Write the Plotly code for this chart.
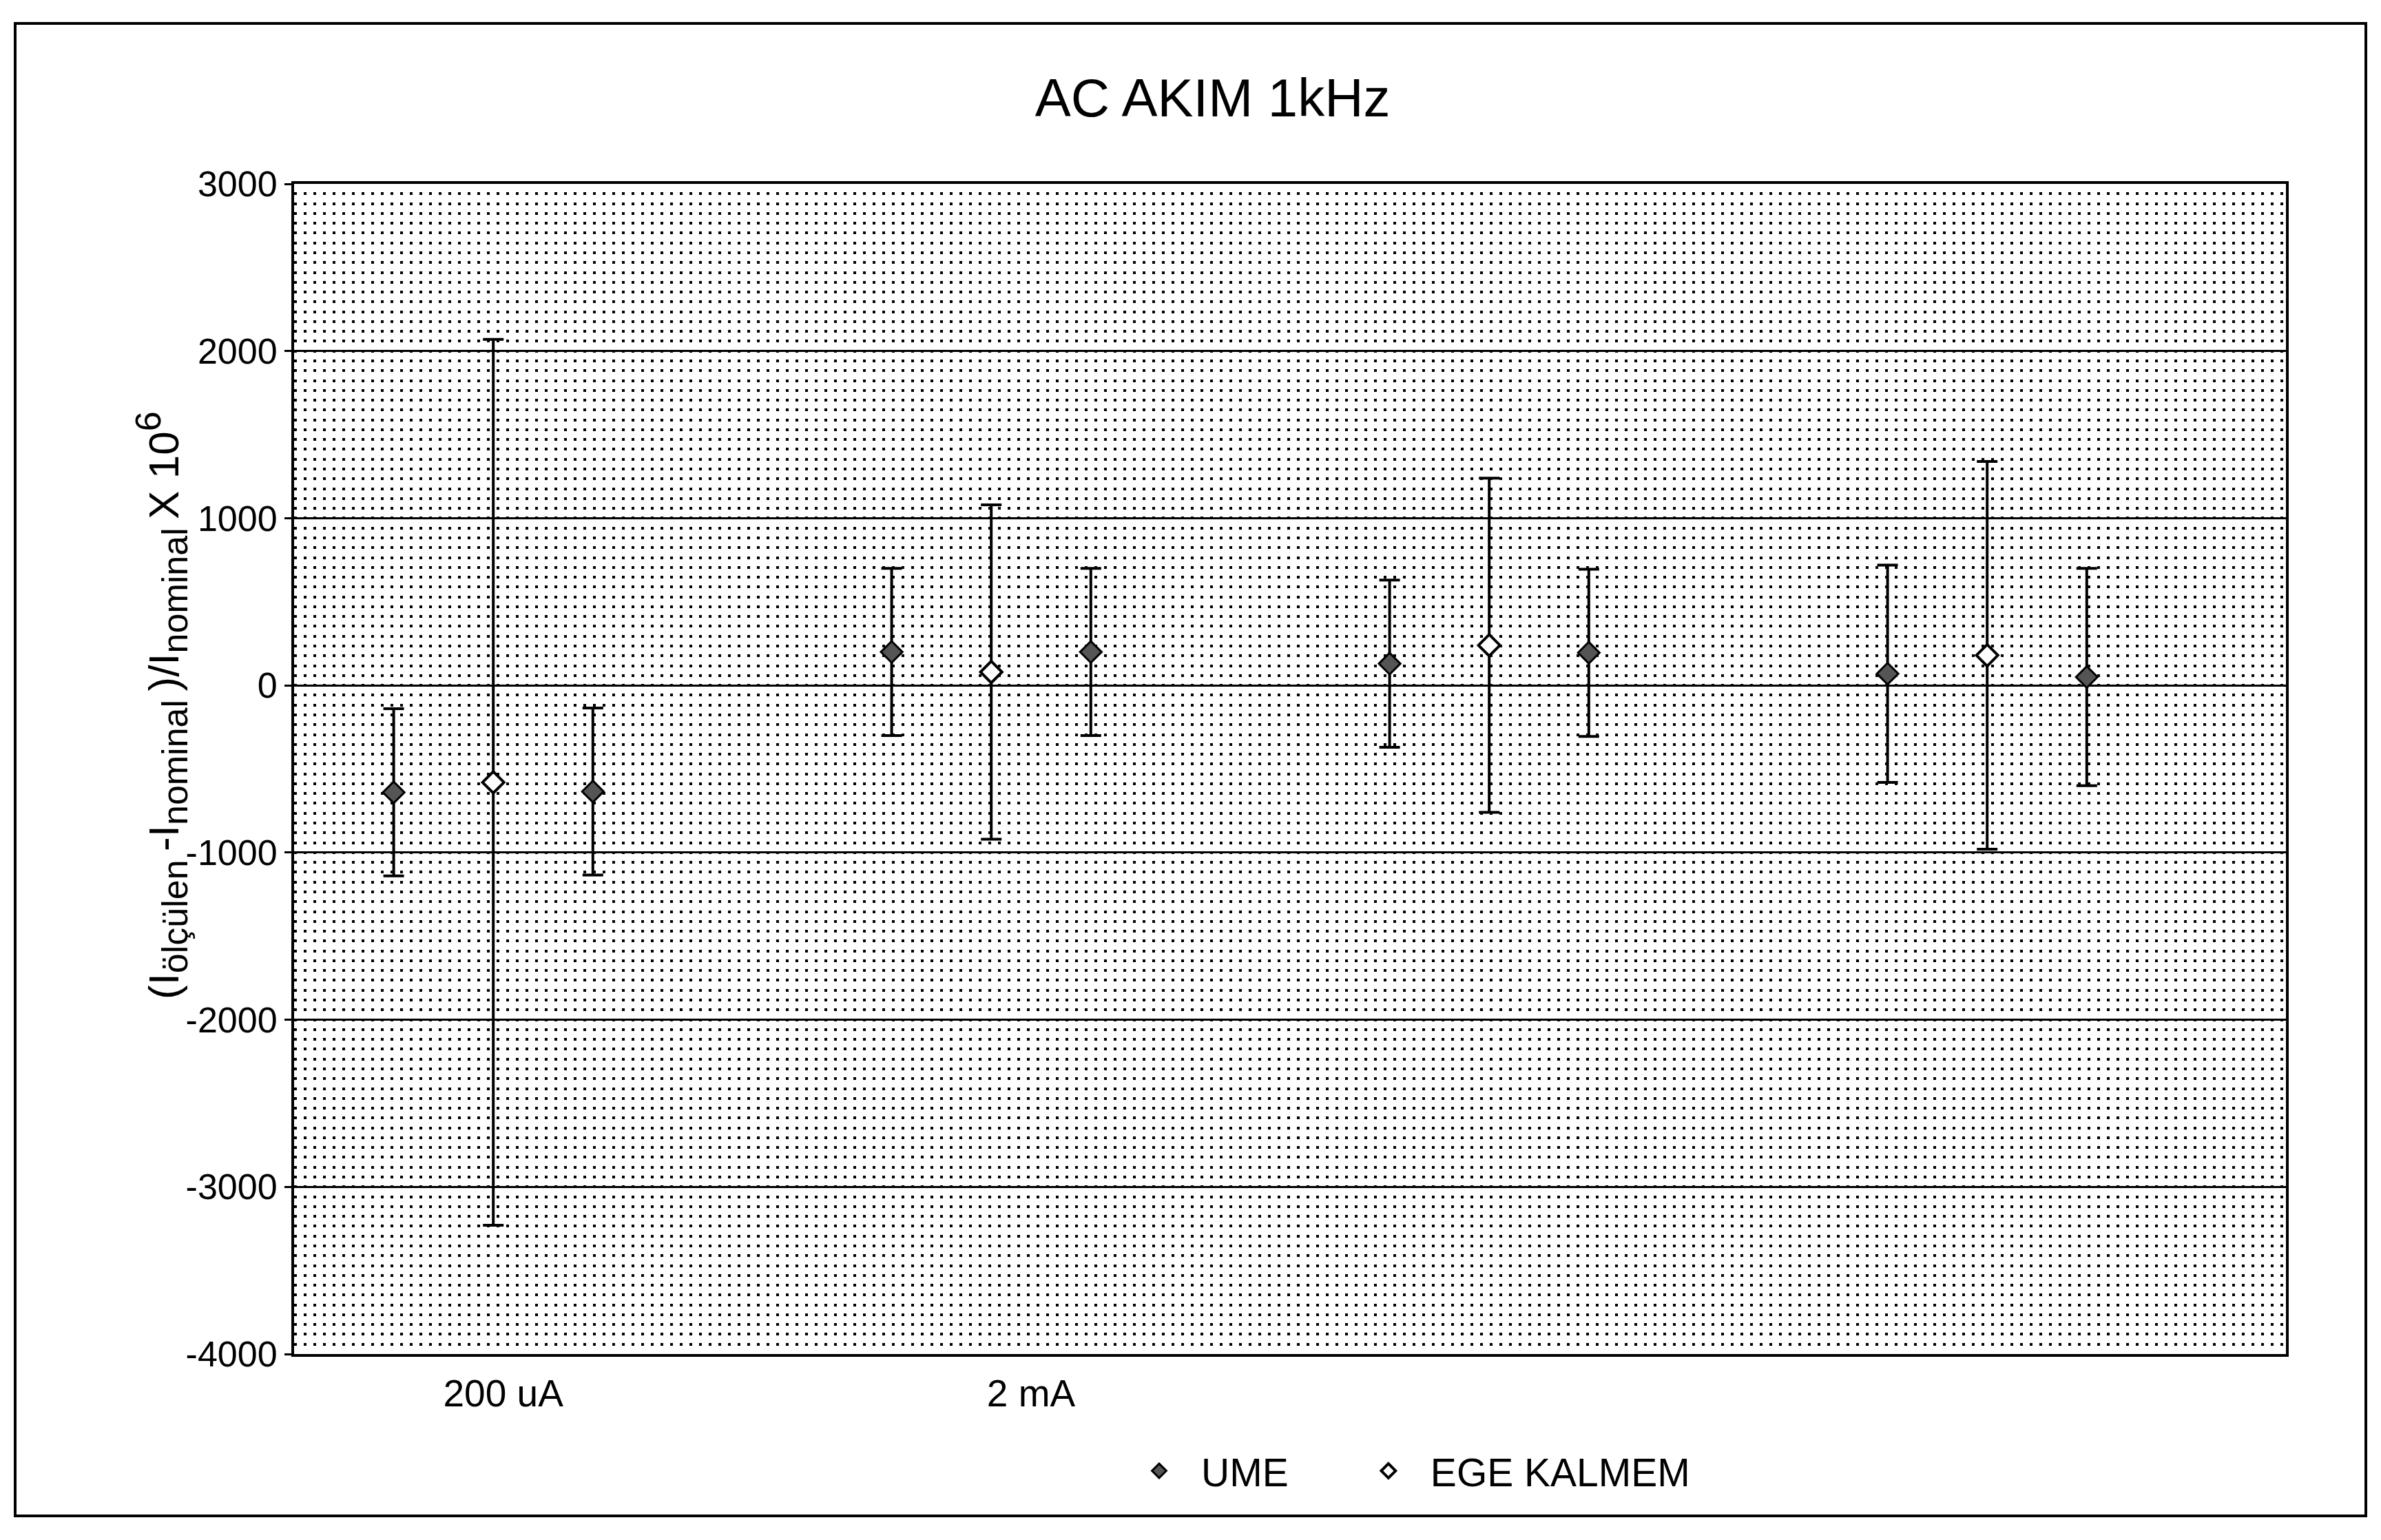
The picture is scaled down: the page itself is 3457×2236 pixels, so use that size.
import plotly.graph_objects as go

# ---- data ----
ume_x = [1, 3, 6, 8, 11, 13, 16, 18]
ume_y = [-640, -635, 200, 200, 130, 195, 70, 50]
ume_err = [500, 500, 500, 500, 500, 500, 650, 650]

ege_x = [2, 7, 12, 17]
ege_y = [-580, 80, 240, 180]
ege_err = [2650, 1000, 1000, 1160]

x_tickvals = [2.1, 7.4]
x_ticktext = ["200 uA", "2 mA"]

y_tickvals = [3000, 2000, 1000, 0, -1000, -2000, -3000, -4000]
y_ticktext = ["3000", "2000", "1000", "0", "-1000", "-2000", "-3000", "-4000"]

FONT = "Liberation Sans, Arial, sans-serif"
NBSP = "\u00a0"

fig = go.Figure()
fig.add_trace(go.Scatter(
    x=ume_x, y=ume_y, mode="markers", name="UME" + NBSP * 5,
    marker=dict(symbol="diamond", size=24, color="#555555",
                line=dict(color="black", width=3)),
    error_y=dict(type="data", array=ume_err, color="black", thickness=4, width=15),
))
fig.add_trace(go.Scatter(
    x=ege_x, y=ege_y, mode="markers", name="EGE KALMEM",
    marker=dict(symbol="diamond", size=24, color="white",
                line=dict(color="black", width=4)),
    error_y=dict(type="data", array=ege_err, color="black", thickness=4, width=15),
))

W, H = 3457, 2236
L, R, T, B = 419, 146, 259, 278
pw, ph = W - L - R, H - T - B

def px_x(v):
    return (v - L) / pw

def px_y(v):
    return (H - B - v) / ph

SUB = "<sub><span style='font-size:52px'>{}</span></sub>"
SUP = "<sup><span style='font-size:52px'>{}</span></sup>"
ytitle = ("(I" + SUB.format("ölçülen") + "\u2009-I" + SUB.format("nominal")
          + "\u2009)/I" + SUB.format("nominal") + "\u2009X 10" + SUP.format("6"))

fig.update_layout(
    width=W, height=H,
    margin=dict(l=L, r=R, t=T, b=B),
    paper_bgcolor="white", plot_bgcolor="white",
    font=dict(family=FONT, color="black"),
    title=dict(text="AC AKIM 1kHz", font=dict(size=78, family=FONT, color="black"),
               x=0.507, xref="container", xanchor="center",
               y=1 - 134 / H, yanchor="middle"),
    showlegend=True,
    legend=dict(orientation="h", x=px_x(1614), xanchor="left",
                y=px_y(2128), yanchor="middle",
                itemwidth=112,
                font=dict(size=57, family=FONT), bgcolor="rgba(0,0,0,0)"),
    xaxis=dict(range=[0, 20], tickvals=x_tickvals, ticktext=x_ticktext,
               showgrid=False, zeroline=False, showline=True, linecolor="black",
               linewidth=4, mirror=True, ticks="", tickfont=dict(size=55),
               ticklabelstandoff=6),
    yaxis=dict(range=[-4000, 3000], tickvals=y_tickvals, ticktext=y_ticktext,
               showgrid=True, gridcolor="black", gridwidth=3, zeroline=False,
               showline=True, linecolor="black", linewidth=4, mirror=True,
               ticks="outside", ticklen=10, tickwidth=3, tickcolor="black",
               tickfont=dict(size=52),
               minor=dict(dtick=1000 / 17, showgrid=True, gridcolor="black",
                          gridwidth=4, griddash="4px,10px", ticks="")),
    annotations=[dict(
        text=ytitle,
        textangle=-90, xref="paper", yref="paper",
        x=px_x(226), y=px_y(1016), xanchor="center", yanchor="middle",
        showarrow=False, font=dict(size=62, family=FONT, color="black"))],
    shapes=[dict(type="rect", xref="paper", yref="paper",
                 x0=px_x(14), x1=px_x(3427), y0=px_y(2193), y1=px_y(26),
                 line=dict(color="black", width=4), fillcolor="rgba(0,0,0,0)")],
)

fig.write_html("out.html")
